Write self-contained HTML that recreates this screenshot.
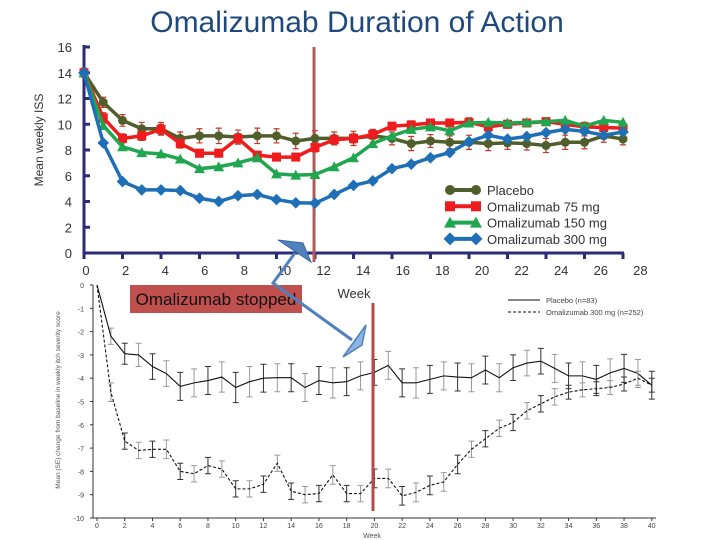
<!DOCTYPE html>
<html><head><meta charset="utf-8">
<style>
html,body{margin:0;padding:0;background:#fff;}
svg{display:block;font-family:"Liberation Sans",sans-serif;}
</style></head>
<body>
<svg id="c" width="720" height="540" viewBox="0 0 720 540">
<text x="357" y="32" text-anchor="middle" font-size="30" fill="#1f497d">Omalizumab Duration of Action</text>
<text transform="translate(43,140) rotate(-90)" text-anchor="middle" font-size="12" fill="#333">Mean weekly ISS</text>
<g id="topchart"></g>
<g id="botchart"></g>
<rect x="130" y="285" width="172" height="28" fill="#c0504d"></rect>
<text x="216" y="305" text-anchor="middle" font-size="17" fill="#111">Omalizumab stopped</text>
<polyline points="295,253 273,283 352,340" fill="none" stroke="#4f81bd" stroke-width="3"></polyline>
<polygon points="278,240 303,243 311,262" fill="#4f81bd" stroke="#3a6aa5"></polygon>
<polygon points="366,325 362,345 343,357" fill="#8db4e2" stroke="#4f81bd" stroke-width="1.5"></polygon>
<text x="354" y="298" text-anchor="middle" font-size="13" fill="#333">Week</text>
</svg>
<script>
// ---- top chart data ----
const weeks = [0,1,2,3,4,5,6,7,8,9,10,11,12,13,14,15,16,17,18,19,20,21,22,23,24,25,26,27,28];
const placebo = [14,11.7,10.3,9.65,9.65,8.9,9.1,9.1,9.0,9.1,9.1,8.7,8.9,8.9,8.9,9.1,8.9,8.5,8.7,8.6,8.6,8.5,8.55,8.5,8.35,8.6,8.6,9.1,8.85];
const dose75 = [14,10.5,8.9,9.1,9.6,8.5,7.75,7.75,8.9,7.6,7.45,7.45,8.2,8.8,8.9,9.2,9.85,9.95,10.1,10.1,10.15,9.8,10.0,10.1,10.2,10.0,9.8,9.75,9.7];
const dose150 = [14,9.9,8.25,7.8,7.7,7.3,6.55,6.7,7.0,7.4,6.15,6.05,6.1,6.7,7.4,8.5,9.1,9.6,9.8,9.5,10.1,10.15,10.1,10.15,10.2,10.3,9.85,10.3,10.15];
const dose300 = [14,8.55,5.55,4.9,4.9,4.85,4.25,4.0,4.45,4.55,4.15,3.9,3.87,4.55,5.25,5.6,6.55,6.9,7.4,7.8,8.65,9.15,8.85,9.05,9.35,9.6,9.45,9.15,9.4];
const placeboErr = [0.35,0.4,0.45,0.5,0.5,0.5,0.55,0.6,0.55,0.6,0.55,0.6,0.6,0.5,0.55,0.5,0.5,0.55,0.5,0.5,0.55,0.55,0.5,0.5,0.55,0.55,0.5,0.5,0.45];
const dose75Err = [0.3,0.4,0.35,0.35,0.4,0.35,0.3,0.3,0.35,0.3,0.3,0.3,0.35,0.35,0.35,0.35,0.3,0.3,0.3,0.3,0.35,0.35,0.3,0.3,0.3,0.3,0.35,0.3,0.3];
const topYTicks = [0,2,4,6,8,10,12,14,16];
const topXTicks = [0,2,4,6,8,10,12,14,16,18,20,22,24,26,28];
const seriesNames = ["Placebo","Omalizumab 75 mg","Omalizumab 150 mg","Omalizumab 300 mg"];
// ---- bottom chart data ----
const bWeeks = [0,1,2,3,4,5,6,7,8,9,10,11,12,13,14,15,16,17,18,19,20,21,22,23,24,25,26,27,28,29,30,31,32,33,34,35,36,37,38,39,40];
const bPlacebo = [0,-2.2,-2.95,-3.0,-3.5,-3.8,-4.35,-4.2,-4.1,-3.95,-4.4,-4.15,-4.0,-3.98,-3.98,-4.4,-4.1,-4.2,-4.15,-3.9,-3.75,-3.45,-4.2,-4.2,-4.05,-3.9,-3.95,-3.98,-3.65,-3.98,-3.55,-3.35,-3.27,-3.58,-3.9,-3.9,-4.05,-3.77,-3.58,-3.8,-4.3];
const bOmal = [0,-4.6,-6.7,-7.1,-7.05,-7.05,-8.0,-8.1,-7.75,-7.9,-8.75,-8.75,-8.55,-7.65,-8.85,-9.0,-8.95,-8.15,-8.95,-8.95,-8.3,-8.3,-9.05,-8.9,-8.6,-8.45,-7.7,-7.05,-6.6,-6.15,-5.9,-5.4,-5.1,-4.8,-4.6,-4.5,-4.45,-4.4,-4.25,-4.0,-4.3];
const bPlaceboErr = [0,0.35,0.45,0.5,0.55,0.55,0.6,0.6,0.6,0.65,0.65,0.65,0.6,0.6,0.6,0.6,0.6,0.65,0.6,0.6,0.55,0.6,0.6,0.65,0.6,0.6,0.6,0.6,0.6,0.6,0.55,0.55,0.55,0.6,0.55,0.6,0.6,0.6,0.6,0.6,0.6];
const bOmalErr = [0,0.4,0.35,0.35,0.35,0.4,0.35,0.35,0.35,0.35,0.35,0.35,0.35,0.35,0.35,0.35,0.35,0.4,0.35,0.35,0.4,0.4,0.4,0.4,0.4,0.4,0.4,0.35,0.35,0.35,0.35,0.35,0.35,0.35,0.3,0.3,0.3,0.3,0.3,0.3,0.3];
const bYTicks = [0,-1,-2,-3,-4,-5,-6,-7,-8,-9,-10];
const bXTicks = [0,2,4,6,8,10,12,14,16,18,20,22,24,26,28,30,32,34,36,38,40];

const NS="http://www.w3.org/2000/svg";
function mk(parent,tag,attrs,text){const e=document.createElementNS(NS,tag);for(const k in attrs)e.setAttribute(k,attrs[k]);if(text!==undefined)e.textContent=text;parent.appendChild(e);return e;}

const tx=w=>84+19.25*w;
const ty=v=>253-12.875*v;
const txLabel=w=>86+19.8*w;
const topG=document.getElementById('topchart');
let ax=mk(topG,'line',{x1:84,y1:45,x2:84,y2:255,stroke:'#2b2b7a','stroke-width':3});

ax=mk(topG,'line',{x1:83,y1:253,x2:624,y2:253,stroke:'#2b2b7a','stroke-width':3});

topYTicks.forEach(v=>{
  mk(topG,'line',{x1:84,y1:ty(v),x2:90,y2:ty(v),stroke:'#2b2b7a','stroke-width':3});
  const t=mk(topG,'text',{x:72,y:ty(v)+5,'text-anchor':'end','font-size':13,fill:'#333'},String(v));
  
  
});
topXTicks.forEach(w=>{
  if(w<=28) mk(topG,'line',{x1:tx(w),y1:253,x2:tx(w),y2:259,stroke:'#2b2b7a','stroke-width':3});
  const t=mk(topG,'text',{x:txLabel(w),y:275,'text-anchor':'middle','font-size':13,fill:'#333'},String(w));
  
  
});
const sl=mk(topG,'line',{x1:tx(11.95),y1:47,x2:tx(11.95),y2:262,stroke:'#b05a5a','stroke-width':3});


function marker(g,kind,x,y,col,s){
  if(kind==='circle') return mk(g,'circle',{cx:x,cy:y,r:s,fill:col});
  if(kind==='square') return mk(g,'rect',{x:x-s,y:y-s,width:2*s,height:2*s,fill:col});
  if(kind==='tri') return mk(g,'polygon',{points:`${x},${y-s*1.2} ${x-s*1.2},${y+s} ${x+s*1.2},${y+s}`,fill:col});
  return mk(g,'polygon',{points:`${x},${y-s*1.3} ${x+s*1.3},${y} ${x},${y+s*1.3} ${x-s*1.3},${y}`,fill:col});
}
const tops=[
  {d:placebo,e:placeboErr,c:'#4f5e2a',m:'circle',name:'series-placebo'},
  {d:dose75,e:dose75Err,c:'#ee1c1c',m:'square',name:'series-omalizumab-75mg'},
  {d:dose150,e:null,c:'#1fa64f',m:'tri',name:'series-omalizumab-150mg'},
  {d:dose300,e:null,c:'#1f6fb7',m:'diamond',name:'series-omalizumab-300mg'}];
tops.forEach(s=>{
  const g=mk(topG,'g',{});
  
  
  if(s.e){weeks.forEach((w,i)=>{
    const x=tx(w),y1=ty(s.d[i]+s.e[i]),y2=ty(s.d[i]-s.e[i]);
    mk(g,'path',{d:`M${x},${y1}V${y2}M${x-3},${y1}h6M${x-3},${y2}h6`,stroke:'#c0392b','stroke-width':1.2,fill:'none'});
  });}
  mk(g,'polyline',{points:weeks.map((w,i)=>tx(w)+','+ty(s.d[i])).join(' '),fill:'none',stroke:s.c,'stroke-width':3.5});
  weeks.forEach((w,i)=>{const p=marker(g,s.m,tx(w),ty(s.d[i]),s.c,4.5);
    
    });
});
seriesNames.forEach((n,i)=>{
  const g=mk(topG,'g',{});
  
  
  const y=190+16.3*i, s=tops[i];
  mk(g,'line',{x1:450,y1:y,x2:476,y2:y,stroke:s.c,'stroke-width':4});
  marker(g,s.m,450,y,s.c,5);marker(g,s.m,476,y,s.c,5);
  mk(g,'text',{x:487,y:y+5,'font-size':13,fill:'#333'},n);
});

const bx=w=>97+13.87*w;
const by=v=>285-23.3*v;
const botG=document.getElementById('botchart');
ax=mk(botG,'line',{x1:93,y1:285,x2:93,y2:518,stroke:'#333','stroke-width':1});

ax=mk(botG,'line',{x1:93,y1:518,x2:656,y2:518,stroke:'#333','stroke-width':1});

bYTicks.forEach(v=>{
  mk(botG,'line',{x1:90,y1:by(v),x2:93,y2:by(v),stroke:'#333'});
  const t=mk(botG,'text',{x:84,y:by(v)+3,'text-anchor':'end','font-size':7,fill:'#444'},String(v));
  
  
});
bXTicks.forEach(w=>{
  mk(botG,'line',{x1:bx(w),y1:518,x2:bx(w),y2:521,stroke:'#333'});
  const t=mk(botG,'text',{x:bx(w),y:528,'text-anchor':'middle','font-size':7,fill:'#444'},String(w));
  
  
});
let tt=mk(botG,'text',{x:372,y:538,'text-anchor':'middle','font-size':7,fill:'#555'},'Week');

tt=mk(botG,'text',{transform:'translate(60,400) rotate(-90)','text-anchor':'middle','font-size':6.5,fill:'#555'},'Mean (SE) change from baseline in weekly itch severity score');

const bots=[{d:bPlacebo,e:bPlaceboErr,dash:null,name:'series-placebo-n83'},{d:bOmal,e:bOmalErr,dash:'3,2',name:'series-omalizumab-300mg-n252'}];
bots.forEach(s=>{
  const g=mk(botG,'g',{});
  
  
  bWeeks.forEach((w,i)=>{ if(!s.e[i])return;
    const x=bx(w),y1=by(s.d[i]+s.e[i]),y2=by(s.d[i]-s.e[i]);
    mk(g,'path',{d:`M${x},${y1}V${y2}M${x-3},${y1}h6M${x-3},${y2}h6`,stroke:i%2?'#999':'#333','stroke-width':1,fill:'none'});
  });
  const a={points:bWeeks.map((w,i)=>bx(w)+','+by(s.d[i])).join(' '),fill:'none',stroke:'#111','stroke-width':1.1};
  if(s.dash)a['stroke-dasharray']=s.dash;
  mk(g,'polyline',a);
});
[['Placebo (n=83)',null],['Omalizumab 300 mg (n=252)','3,2']].forEach((L,i)=>{
  const g=mk(botG,'g',{});
  
  
  const y=300+12*i;
  const a={x1:508,y1:y,x2:540,y2:y,stroke:'#111','stroke-width':1};
  if(L[1])a['stroke-dasharray']=L[1];
  mk(g,'line',a);
  mk(g,'text',{x:546,y:y+3,'font-size':7.5,fill:'#444'},L[0]);
});
const sl2=mk(botG,'line',{x1:bx(19.9),y1:303,x2:bx(19.9),y2:511,stroke:'#b84a4a','stroke-width':3});

</script>
</body></html>
